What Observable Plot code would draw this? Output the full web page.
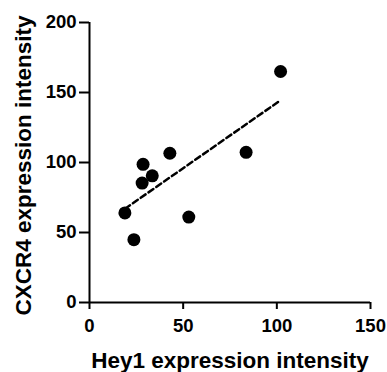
<!DOCTYPE html>
<html>
<head>
<meta charset="utf-8">
<script src="https://cdn.jsdelivr.net/npm/d3@7"></script>
<script src="https://cdn.jsdelivr.net/npm/@observablehq/plot@0.6"></script>
<style>
  html, body { margin: 0; padding: 0; background: #fff; }
</style>
</head>
<body>
<div id="chart"></div>
<script>
// Data
const hey1 = [102, 83.6, 42.9, 28.6, 33.5, 28.1, 18.9, 23.7, 53];
const cxcr4 = [165, 107.3, 106.6, 98.7, 90.5, 85.3, 64, 44.9, 61];
const fitX = [19, 101.5];
const fitY = [67, 144];
const xTicks = [0, 50, 100, 150];
const yTicks = [0, 50, 100, 150, 200];
const xLabel = "Hey1 expression intensity";
const yLabel = "CXCR4 expression intensity";

const points = hey1.map((x, i) => ({x, y: cxcr4[i]}));
const fit = fitX.map((x, i) => ({x, y: fitY[i]}));

const chart = Plot.plot({
  width: 387,
  height: 372,
  marginLeft: 89,
  marginRight: 17,
  marginTop: 22,
  marginBottom: 70,
  style: {
    fontFamily: "'Liberation Sans', Arial, sans-serif",
    fontWeight: "bold",
    color: "#000",
    background: "#fff",
    overflow: "visible"
  },
  x: {domain: [0, 150]},
  y: {domain: [0, 200]},
  marks: [
    Plot.axisX({ticks: xTicks, tickSize: 7, tickPadding: 9, fontSize: 18.5, strokeWidth: 2, label: null}),
    Plot.axisY({ticks: yTicks, tickSize: 10, tickPadding: 3, fontSize: 18.5, strokeWidth: 2, label: null}),
    Plot.ruleX([0], {y1: 0, y2: 200, stroke: "#000", strokeWidth: 2}),
    Plot.ruleY([0], {x1: 0, x2: 150, stroke: "#000", strokeWidth: 2}),
    Plot.line(fit, {x: "x", y: "y", stroke: "#000", strokeWidth: 2.5, strokeDasharray: "6,3.5"}),
    Plot.dot(points, {x: "x", y: "y", r: 6.5, fill: "#000", stroke: "none"}),
    Plot.text([xLabel], {frameAnchor: "bottom", textAnchor: "middle", dy: 65, lineAnchor: "bottom", fontSize: 22.5, fontWeight: "bold", fill: "#000"}),
    Plot.text([yLabel], {frameAnchor: "left", textAnchor: "middle", dx: -66, dy: 3, rotate: -90, lineAnchor: "middle", fontSize: 22.5, fontWeight: "bold", fill: "#000"})
  ]
});
document.getElementById("chart").appendChild(chart);
</script>
</body>
</html>
